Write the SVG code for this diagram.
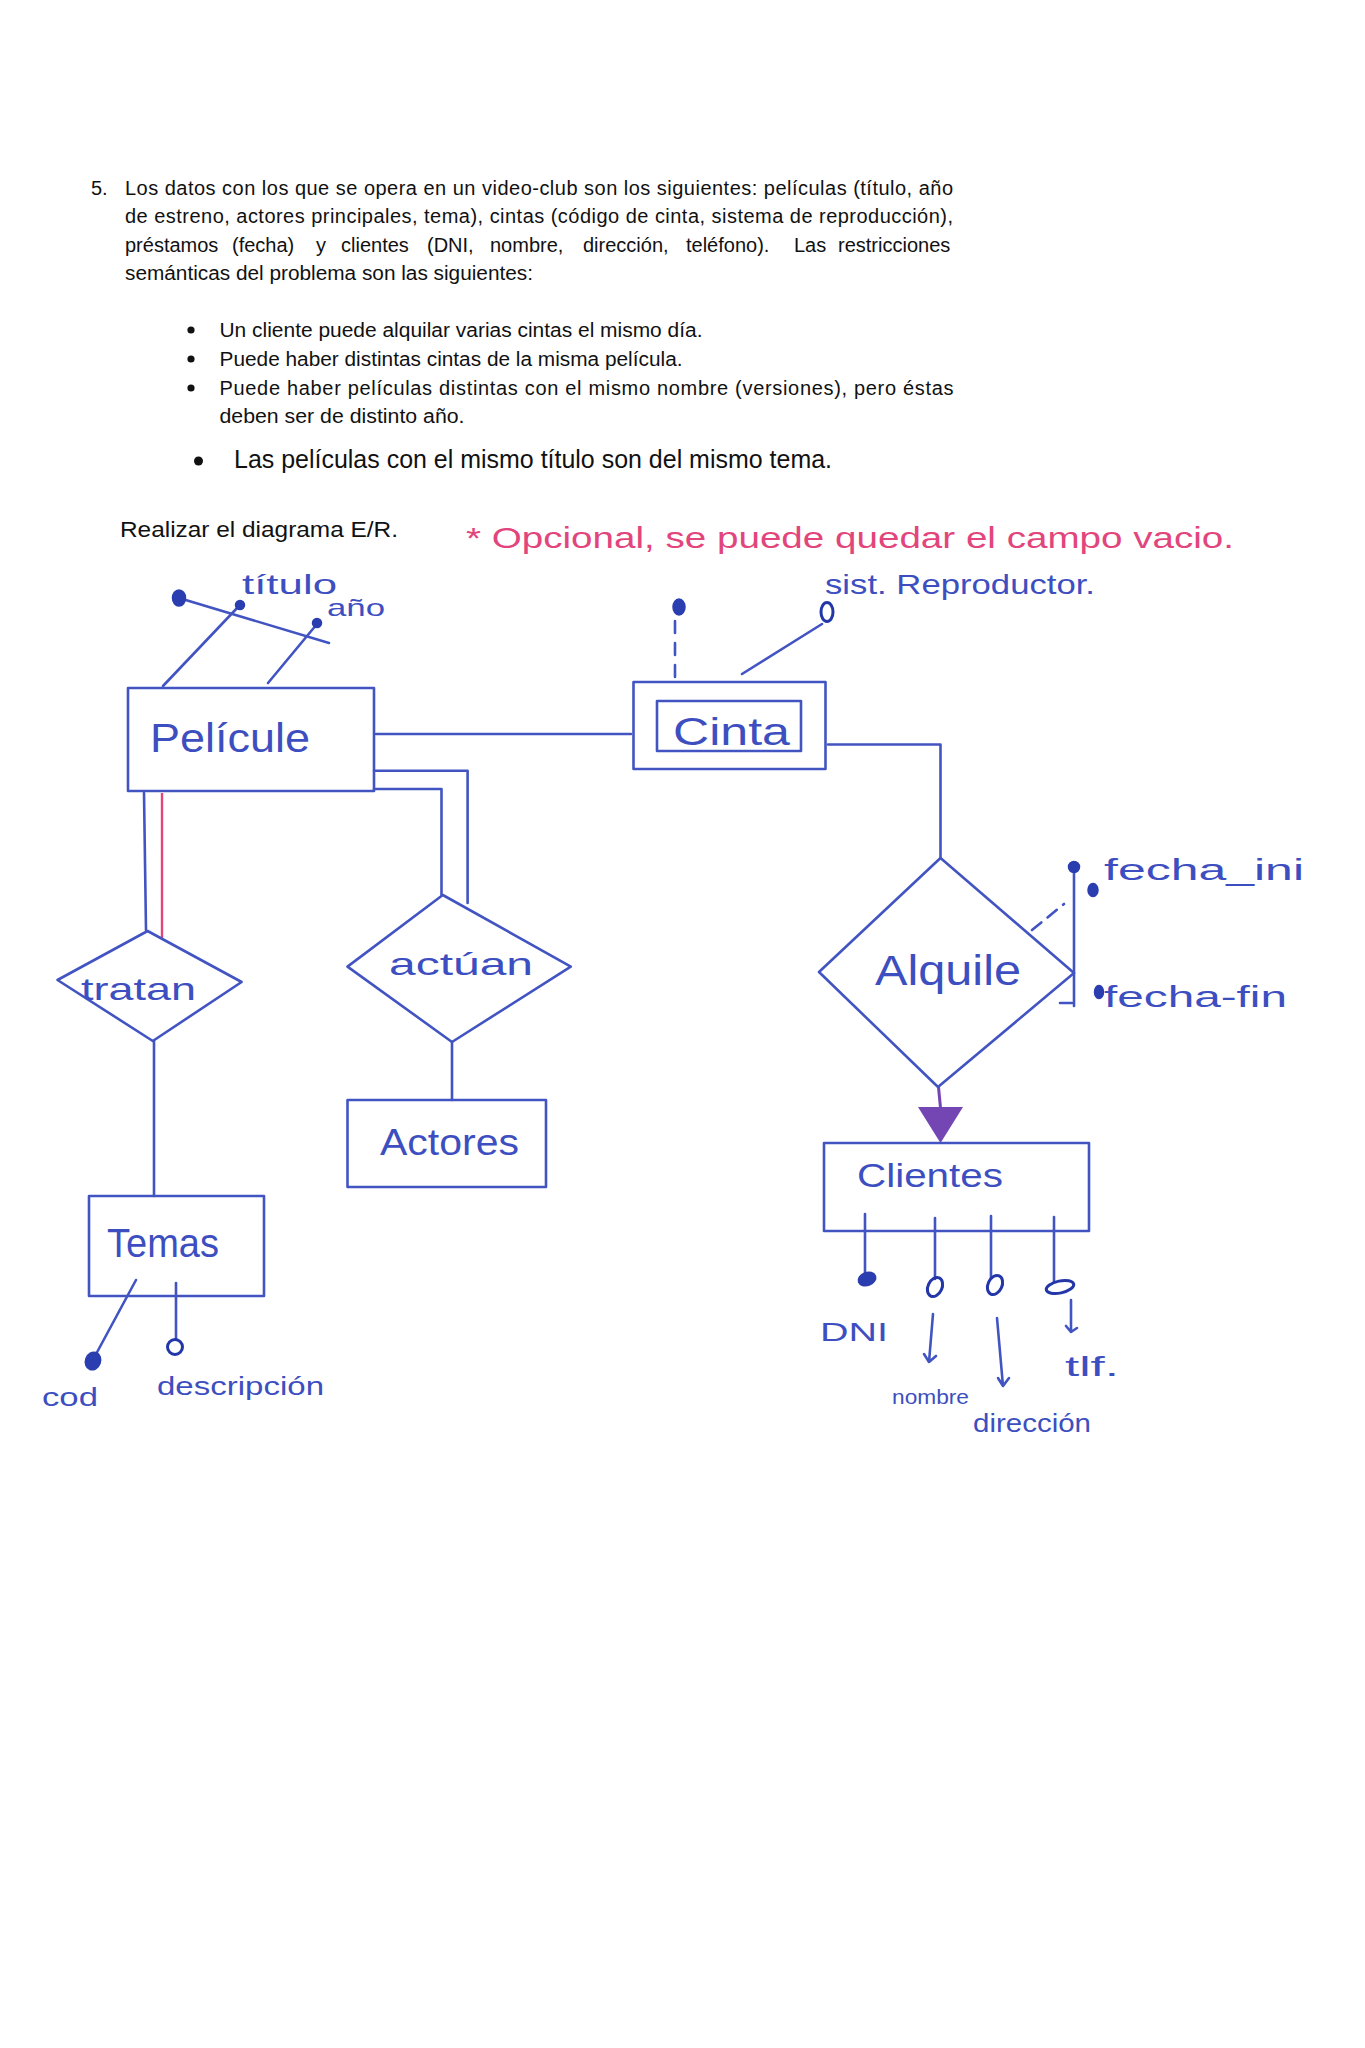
<svg xmlns="http://www.w3.org/2000/svg" width="1365" height="2048" viewBox="0 0 1365 2048">
<style>
.p{font-family:"Liberation Sans",Arial,sans-serif;font-size:20px;fill:#111}
.h{font-family:"Liberation Sans",Arial,sans-serif;fill:#3d4fc0}
.pk{font-family:"Liberation Sans",Arial,sans-serif;fill:#e2457c}
.ln{fill:none;stroke:#4254c2;stroke-width:2.6;stroke-linecap:round;stroke-linejoin:round}
.dot{fill:#2b3eb0;stroke:#2b3eb0;stroke-width:1.5}
.od{fill:none;stroke:#2437a8;stroke-width:3}
</style>
<rect width="1365" height="2048" fill="#fff"/>
<g id="enunciado">
<text class="p" x="91" y="195">5.</text>
<text class="p" x="125" y="195" textLength="828" lengthAdjust="spacing">Los datos con los que se opera en un video-club son los siguientes: películas (título, año</text>
<text class="p" x="125" y="223" textLength="828" lengthAdjust="spacing">de estreno, actores principales, tema), cintas (código de cinta, sistema de reproducción),</text>
<text class="p" y="251.5"><tspan x="125">préstamos</tspan><tspan x="232">(fecha)</tspan><tspan x="316">y</tspan><tspan x="341">clientes</tspan><tspan x="427">(DNI,</tspan><tspan x="490">nombre,</tspan><tspan x="583">dirección,</tspan><tspan x="686">teléfono).</tspan><tspan x="794">Las</tspan><tspan x="838">restricciones</tspan></text>
<text class="p" x="125" y="280" textLength="408" lengthAdjust="spacingAndGlyphs">semánticas del problema son las siguientes:</text>
<circle cx="191" cy="330" r="3.6" fill="#111"/>
<text class="p" x="219.5" y="337" textLength="483" lengthAdjust="spacingAndGlyphs">Un cliente puede alquilar varias cintas el mismo día.</text>
<circle cx="191" cy="359" r="3.6" fill="#111"/>
<text class="p" x="219.5" y="366" textLength="463" lengthAdjust="spacingAndGlyphs">Puede haber distintas cintas de la misma película.</text>
<circle cx="191" cy="388" r="3.6" fill="#111"/>
<text class="p" x="219.5" y="394.5" textLength="734" lengthAdjust="spacing">Puede haber películas distintas con el mismo nombre (versiones), pero éstas</text>
<text class="p" x="219.5" y="423" textLength="245" lengthAdjust="spacingAndGlyphs">deben ser de distinto año.</text>
<circle cx="198.5" cy="461" r="4.5" fill="#111"/>
<text class="p" x="234" y="468" style="font-size:26px" textLength="598" lengthAdjust="spacingAndGlyphs">Las películas con el mismo título son del mismo tema.</text>
<text class="p" x="120" y="537" style="font-size:22px" textLength="278" lengthAdjust="spacingAndGlyphs">Realizar el diagrama E/R.</text>
</g>
<g id="nota">
<text class="pk" x="466" y="548" style="font-size:30px" textLength="768" lengthAdjust="spacingAndGlyphs">* Opcional, se puede quedar el campo vacio.</text>
</g>
<g id="connectors">
<path class="ln" d="M376 734 H631"/>
<path class="ln" d="M828 744.5 H940.5 V858"/>
<path class="ln" d="M144 793 L146 930"/>
<path d="M162 793 V938" fill="none" stroke="#e2457c" stroke-width="2.4"/>
<path class="ln" d="M154 1041 V1196"/>
<path class="ln" d="M374 770.7 H467.6 V903"/>
<path class="ln" d="M374 789 H441.5 V895"/>
<path class="ln" d="M452 1042 V1100"/>
<path d="M938.5 1087 L940.5 1108" fill="none" stroke="#7346b3" stroke-width="3"/>
<polygon points="918,1107 963,1107 940.5,1143" fill="#7346b3"/>
</g>
<g id="pelicula">
<rect class="ln" x="128" y="688" width="246" height="103"/>
<text class="h" x="150" y="752" style="font-size:40px" textLength="160" lengthAdjust="spacingAndGlyphs">Películe</text>
<path class="ln" d="M179 598 L329 643"/>
<path class="ln" d="M163 686 L239 606"/>
<path class="ln" d="M268 683 L317 624"/>
<ellipse class="dot" cx="179" cy="598" rx="6.5" ry="8"/>
<circle class="dot" cx="240" cy="605" r="4.5"/>
<circle class="dot" cx="317" cy="623" r="4.5"/>
<text class="h" x="242" y="594" style="font-size:28px" textLength="95" lengthAdjust="spacingAndGlyphs">título</text>
<text class="h" x="327" y="616" style="font-size:24px" textLength="58" lengthAdjust="spacingAndGlyphs">año</text>
</g>
<g id="cinta">
<rect class="ln" x="633.5" y="682" width="192" height="87"/>
<rect class="ln" x="657" y="701" width="144" height="50"/>
<text class="h" x="673" y="745" style="font-size:38px" textLength="117" lengthAdjust="spacingAndGlyphs">Cinta</text>
<path class="ln" d="M675 677 V620" stroke-dasharray="12 10"/>
<ellipse class="dot" cx="679" cy="607" rx="6" ry="8"/>
<path class="ln" d="M742 674 L822 624"/>
<ellipse class="od" cx="827" cy="612" rx="6" ry="9.5"/>
<text class="h" x="825" y="594" style="font-size:28px" textLength="270" lengthAdjust="spacingAndGlyphs">sist. Reproductor.</text>
</g>
<g id="alquile">
<polygon class="ln" points="940.5,858 1074,973 938,1087 819,972"/>
<text class="h" x="875" y="985" style="font-size:42px" textLength="146" lengthAdjust="spacingAndGlyphs">Alquile</text>
<path class="ln" d="M1074 867 V1006"/>
<path class="ln" d="M1032 930 L1064 904" stroke-dasharray="12 8"/>
<path class="ln" d="M1060 1003 H1072"/>
<circle class="dot" cx="1074" cy="867" r="5.5"/>
<ellipse class="dot" cx="1093" cy="890" rx="5" ry="6.5"/>
<ellipse class="dot" cx="1099" cy="992" rx="4.5" ry="6.5"/>
<text class="h" x="1104" y="880" style="font-size:30px" textLength="200" lengthAdjust="spacingAndGlyphs">fecha_ini</text>
<text class="h" x="1104" y="1007" style="font-size:30px" textLength="183" lengthAdjust="spacingAndGlyphs">fecha-fin</text>
</g>
<g id="clientes">
<rect class="ln" x="824" y="1143" width="265" height="88"/>
<text class="h" x="857" y="1187" style="font-size:34px" textLength="146" lengthAdjust="spacingAndGlyphs">Clientes</text>
<path class="ln" d="M865 1214 V1274"/>
<path class="ln" d="M935 1218 V1279"/>
<path class="ln" d="M991 1216 V1278"/>
<path class="ln" d="M1054 1217 V1282"/>
<ellipse class="dot" cx="867" cy="1279" rx="9" ry="6.5" transform="rotate(-20 867 1279)"/>
<ellipse class="od" cx="935" cy="1287" rx="7" ry="10" transform="rotate(25 935 1287)"/>
<ellipse class="od" cx="995" cy="1285" rx="7" ry="10" transform="rotate(25 995 1285)"/>
<ellipse class="od" cx="1060" cy="1287" rx="14" ry="6" transform="rotate(-12 1060 1287)"/>
<text class="h" x="820" y="1341" style="font-size:26px" textLength="68" lengthAdjust="spacingAndGlyphs">DNI</text>
<path class="ln" d="M933 1314 L929 1362 M924 1354 L929 1362 L936 1356"/>
<text class="h" x="892" y="1404" style="font-size:21px" textLength="77" lengthAdjust="spacingAndGlyphs">nombre</text>
<path class="ln" d="M997 1318 L1003 1386 M998 1378 L1003 1386 L1009 1378"/>
<text class="h" x="973" y="1432" style="font-size:25px" textLength="118" lengthAdjust="spacingAndGlyphs">dirección</text>
<path class="ln" d="M1071 1300 V1332 M1066 1326 L1071 1332 L1077 1328"/>
<text class="h" x="1065" y="1376" style="font-size:28px" textLength="54" lengthAdjust="spacingAndGlyphs">tlf.</text>
</g>
<g id="tratan">
<polygon class="ln" points="147.6,931 241.6,982 152.8,1041 57.5,980"/>
<text class="h" x="81" y="1000" style="font-size:32px" textLength="115" lengthAdjust="spacingAndGlyphs">tratan</text>
</g>
<g id="temas">
<rect class="ln" x="89" y="1196" width="175" height="100"/>
<text class="h" x="107" y="1257" style="font-size:40px" textLength="112" lengthAdjust="spacingAndGlyphs">Temas</text>
<path class="ln" d="M136 1280 L95 1356"/>
<ellipse class="dot" cx="93" cy="1361" rx="7.5" ry="9" transform="rotate(20 93 1361)"/>
<path class="ln" d="M176 1283 V1339"/>
<circle class="od" cx="175" cy="1347" r="7.5"/>
<text class="h" x="42" y="1406" style="font-size:26px" textLength="56" lengthAdjust="spacingAndGlyphs">cod</text>
<text class="h" x="157" y="1395" style="font-size:26px" textLength="167" lengthAdjust="spacingAndGlyphs">descripción</text>
</g>
<g id="actuan">
<polygon class="ln" points="442.8,895 570.8,966.6 452,1042 347.5,966.6"/>
<text class="h" x="389" y="975" style="font-size:32px" textLength="144" lengthAdjust="spacingAndGlyphs">actúan</text>
</g>
<g id="actores">
<rect class="ln" x="347.5" y="1100" width="198.5" height="87"/>
<text class="h" x="380" y="1155" style="font-size:36px" textLength="139" lengthAdjust="spacingAndGlyphs">Actores</text>
</g>
</svg>
